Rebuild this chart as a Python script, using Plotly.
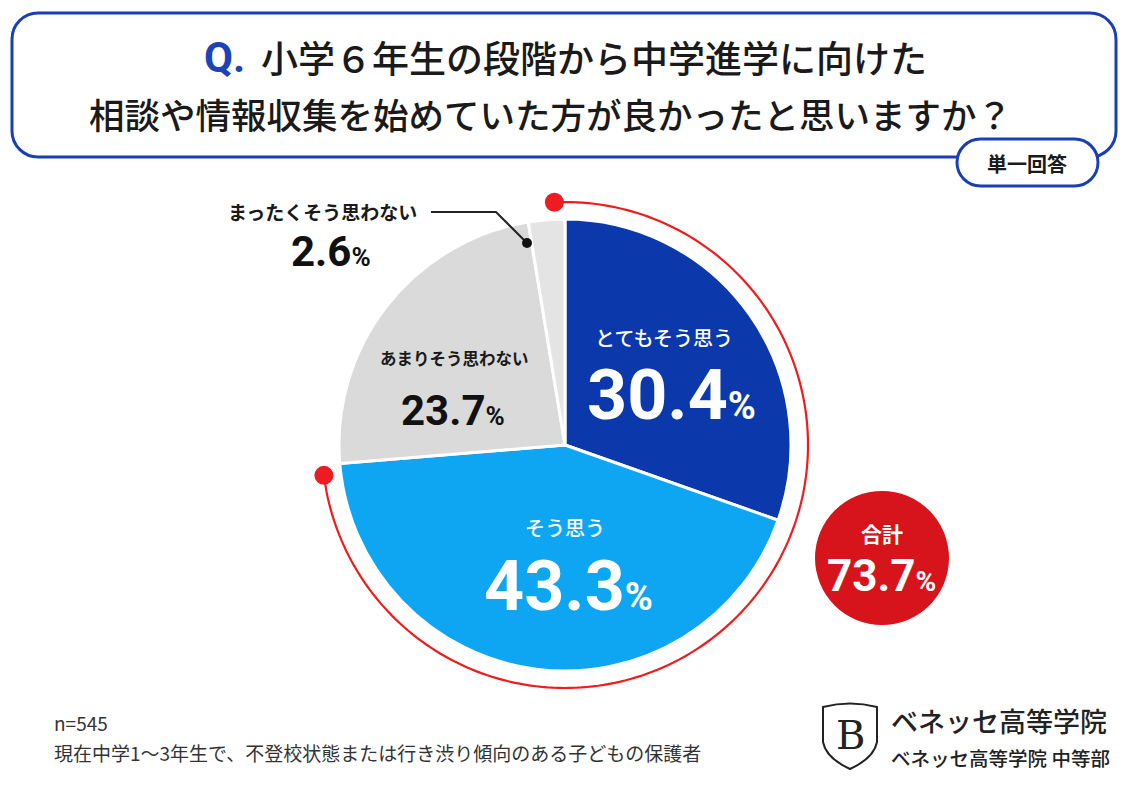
import numpy as np
import plotly.graph_objects as go

W, H = 1143, 803

# ---- data ----
categories = ["とてもそう思う", "そう思う", "あまりそう思わない", "まったくそう思わない"]
values = [30.4, 43.3, 23.7, 2.6]
slice_colors = ["#0b38ab", "#0ea6f2", "#dadada", "#e4e4e4"]
sample_note = "n=545"
target_note = "現在中学1～3年生で、不登校状態または行き渋り傾向のある子どもの保護者"
title_q = "Q."
title_line1 = "小学６年生の段階から中学進学に向けた"
title_line2 = "相談や情報収集を始めていた方が良かったと思いますか？"
tag_text = "単一回答"
total_label = "合計"
logo_line1 = "ベネッセ高等学院"
logo_line2 = "ベネッセ高等学院 中等部"

total = values[0] + values[1]

JP = "Noto Sans CJK JP"
NUM = "Roboto"


def P(x, y):
    return x / W, 1 - y / H


def path_from(points, close=False):
    s = ""
    for i, (x, y) in enumerate(points):
        px, py = P(x, y)
        s += ("M" if i == 0 else "L") + f"{px:.5f},{py:.5f} "
    if close:
        s += "Z"
    return s


def rrect(x0, y0, x1, y1, r):
    k = 0.5523 * r

    def p(x, y):
        a, b = P(x, y)
        return f"{a:.5f},{b:.5f}"
    return (f"M{p(x0 + r, y0)} L{p(x1 - r, y0)} C{p(x1 - r + k, y0)} {p(x1, y0 + r - k)} {p(x1, y0 + r)} "
            f"L{p(x1, y1 - r)} C{p(x1, y1 - r + k)} {p(x1 - r + k, y1)} {p(x1 - r, y1)} "
            f"L{p(x0 + r, y1)} C{p(x0 + r - k, y1)} {p(x0, y1 - r + k)} {p(x0, y1 - r)} "
            f"L{p(x0, y0 + r)} C{p(x0, y0 + r - k)} {p(x0 + r - k, y0)} {p(x0 + r, y0)} Z")


def circle(cx, cy, r, color, line=None):
    x0, y0 = P(cx - r, cy + r)
    x1, y1 = P(cx + r, cy - r)
    return dict(type="circle", xref="paper", yref="paper", x0=x0, y0=y0, x1=x1, y1=y1,
                fillcolor=color, line=dict(width=0) if line is None else line)


# pie geometry (pixels)
cx, cy, R = 565, 445, 226
dx0, dy0 = P(cx - R, cy + R)
dx1, dy1 = P(cx + R, cy - R)

fig = go.Figure()
fig.add_trace(go.Pie(
    labels=categories, values=values, sort=False, direction="clockwise", rotation=0,
    marker=dict(colors=slice_colors, line=dict(color="white", width=3)),
    textinfo="none", hoverinfo="label+percent", showlegend=False,
    domain=dict(x=[dx0, dx1], y=[dy0, dy1]),
))

shapes = []
# title box
shapes.append(dict(type="path", xref="paper", yref="paper", path=rrect(12, 13, 1116, 157, 26),
                   fillcolor="white", line=dict(color="#1a3fb5", width=3)))
# tag pill
shapes.append(dict(type="path", xref="paper", yref="paper", path=rrect(957, 139, 1098, 186, 23.5),
                   fillcolor="white", line=dict(color="#1a3fb5", width=3)))

# red arc around the "agree" total
ar = 243
a0 = -2.5
angs = np.radians(np.linspace(a0, a0 + total * 3.6, 200))
arc_pts = [(cx + ar * np.sin(a), cy - ar * np.cos(a)) for a in angs]
shapes.append(dict(type="path", xref="paper", yref="paper", path=path_from(arc_pts),
                   line=dict(color="#ee1c1c", width=2.2)))
shapes.append(circle(*arc_pts[0], 9.5, "#ee1c22"))
shapes.append(circle(*arc_pts[-1], 9.5, "#ee1c22"))

# leader line for smallest slice
shapes.append(dict(type="path", xref="paper", yref="paper",
                   path=path_from([(431, 212), (496, 212), (527, 243)]),
                   line=dict(color="#222222", width=2)))
shapes.append(circle(527, 243, 5, "#111111"))

# total circle
shapes.append(circle(882, 558, 67, "#d7141b"))

# logo shield
sh = "M" + "{:.5f},{:.5f}".format(*P(823, 707))
sh += " Q{:.5f},{:.5f} {:.5f},{:.5f}".format(*P(850, 700), *P(877, 707))
sh += " L{:.5f},{:.5f}".format(*P(877, 742))
sh += " Q{:.5f},{:.5f} {:.5f},{:.5f}".format(*P(874, 758), *P(850, 769))
sh += " Q{:.5f},{:.5f} {:.5f},{:.5f}".format(*P(826, 758), *P(823, 742))
sh += " Z"
shapes.append(dict(type="path", xref="paper", yref="paper", path=sh,
                   fillcolor="white", line=dict(color="#222222", width=2)))

ann = []


def A(x, y, text, size, color="#1a1a1a", family=JP, weight="normal", xanchor="center", yanchor="middle"):
    px, py = P(x, y)
    ann.append(dict(x=px, y=py, xref="paper", yref="paper", text=text, showarrow=False,
                    xanchor=xanchor, yanchor=yanchor,
                    font=dict(size=size, color=color, family=family, weight=weight)))


# title
A(247, 57, title_q, 42, color="#1a44b8", family=NUM, weight="bold", xanchor="right")
A(259, 57, title_line1, 37, weight=500, xanchor="left")
A(550, 113, title_line2, 35.5, weight=500)
A(1027, 163, tag_text, 20, weight="bold")


def pct(v, small):
    return f"{v:.1f}<span style='font-size:{small}px'>%</span>"


# slice labels
A(664, 337, categories[0], 20, color="white", weight=500)
A(671, 395, pct(values[0], 38), 70, color="white", family=NUM, weight="bold")
A(565, 527, categories[1], 20, color="white", weight=500)
A(568, 586, pct(values[1], 38), 70, color="white", family=NUM, weight="bold")
A(454, 358, categories[2], 16.5, color="#1a1a1a", weight="bold")
A(453, 410, pct(values[2], 26), 42, color="#111111", family=NUM, weight="bold")
A(322, 212, categories[3], 19, color="#1a1a1a", weight="bold")
A(331, 252, pct(values[3], 26), 42, color="#111111", family=NUM, weight="bold")

# total
A(882, 533, total_label, 21, color="white", weight="bold")
A(881, 576, pct(total, 28), 44, color="white", family=NUM, weight="bold")

# footer
A(52, 722, sample_note, 19, color="#333333", xanchor="left")
A(52, 752, target_note, 19, color="#333333", xanchor="left")

# logo
A(850, 735, "B", 40, color="#222222", family="DejaVu Serif")
A(889, 720, logo_line1, 27, color="#222222", weight=500, xanchor="left")
A(889, 757, logo_line2, 19.5, color="#222222", weight=500, xanchor="left")

fig.update_layout(
    width=W, height=H, margin=dict(l=0, r=0, t=0, b=0),
    paper_bgcolor="white", plot_bgcolor="white",
    shapes=shapes, annotations=ann,
)

fig.write_html("out.html", config={"displayModeBar": False},
               post_script="document.body.style.margin='0px';")
